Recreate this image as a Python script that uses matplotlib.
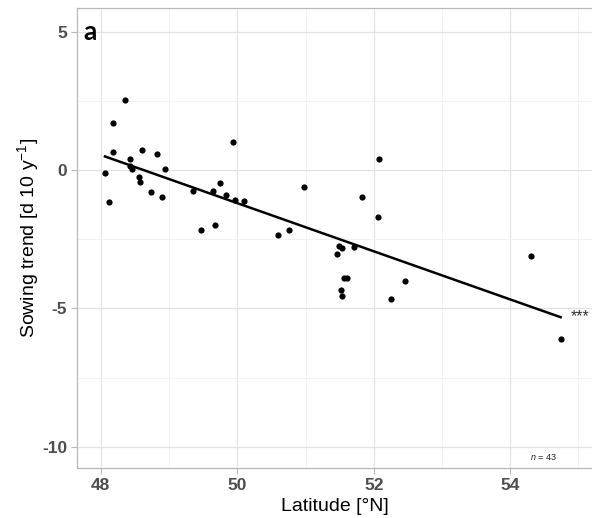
import numpy as np
import matplotlib
matplotlib.use("Agg")
import matplotlib.pyplot as plt
from matplotlib.ticker import FixedLocator

plt.rcParams["axes.unicode_minus"] = False
plt.rcParams["mathtext.fontset"] = "custom"
plt.rcParams["mathtext.rm"] = "Liberation Sans"
plt.rcParams["mathtext.it"] = "Liberation Sans:italic"

latitude = [48.06, 48.12, 48.18, 48.18, 48.35, 48.42, 48.43, 48.46, 48.56, 48.57,
            48.61, 48.73, 48.82, 48.89, 48.94, 49.35, 49.47, 49.64, 49.68, 49.75,
            49.84, 49.93, 49.97, 50.10, 50.59, 50.76, 50.98, 51.46, 51.49, 51.54,
            51.52, 51.54, 51.56, 51.61, 51.71, 51.83, 52.06, 52.08, 52.26, 52.46,
            54.30, 54.74]
sowing_trend = [-0.10, -1.17, 1.69, 0.65, 2.53, 0.40, 0.15, 0.04, -0.26, -0.43,
                0.73, -0.81, 0.57, -0.99, 0.04, -0.75, -2.18, -0.75, -1.98, -0.48,
                -0.92, 1.02, -1.08, -1.12, -2.34, -2.18, -0.60, -3.03, -2.76, -2.83,
                -4.32, -4.54, -3.90, -3.90, -2.77, -0.99, -1.68, 0.38, -4.65, -4.02,
                -3.10, -6.09]
x_ticks = [48, 50, 52, 54]
y_ticks = [-10, -5, 0, 5]

lat = np.array(latitude)
st = np.array(sowing_trend)

fig = plt.figure(figsize=(5.92, 5.18), dpi=100)
ax = fig.add_axes([77/592, 50/518, 1 - 77/592, (468-8)/518])

ax.set_xlim(47.65, 55.2)
ax.set_ylim(-10.76, 5.85)

ax.xaxis.set_major_locator(FixedLocator(x_ticks))
ax.yaxis.set_major_locator(FixedLocator(y_ticks))
ax.xaxis.set_minor_locator(FixedLocator([49, 51, 53, 55]))
ax.yaxis.set_minor_locator(FixedLocator([-7.5, -2.5, 2.5]))

ax.grid(which="major", color="#e2e2e2", linewidth=0.9)
ax.grid(which="minor", color="#f0f0f0", linewidth=0.6)
ax.set_axisbelow(True)

for s in ["left", "bottom", "top"]:
    ax.spines[s].set_color("#b8b8b8")
    ax.spines[s].set_linewidth(0.9)
ax.spines["right"].set_visible(False)

ax.tick_params(which="major", length=4, color="#b8b8b8", width=0.8,
               labelsize=12.5, labelcolor="#4d4d4d", pad=3)
ax.tick_params(which="minor", length=0)
for lab in ax.get_xticklabels() + ax.get_yticklabels():
    lab.set_fontweight("bold")
    lab.set_family("Liberation Sans")

ax.scatter(lat, st, s=20, color="black", zorder=3, linewidths=0)

coef = np.polyfit(lat, st, 1)
xs = np.array([lat.min(), lat.max()])
ax.plot(xs, np.polyval(coef, xs), color="black", linewidth=1.8, zorder=2)

ax.text(55.03, np.polyval(coef, lat.max()) + 0.02, "***", ha="center", va="center",
        fontsize=11.5, color="#333333", family="Liberation Sans")
ax.text(54.49, -10.36, r"$\it{n}$ = 43", ha="center", va="center", fontsize=6.5,
        color="#222222", family="Liberation Sans")
ax.text(47.75, 5.0, "a", ha="left", va="center", fontsize=19, fontweight="bold",
        family="Lato", color="black")

ax.set_xlabel("Latitude [°N]", fontsize=14, family="Liberation Sans", labelpad=4)
ax.set_ylabel(r"Sowing trend [d 10 y$^{-1}$]", fontsize=14, family="Liberation Sans",
              labelpad=1)

fig.savefig("out.png", dpi=100)
